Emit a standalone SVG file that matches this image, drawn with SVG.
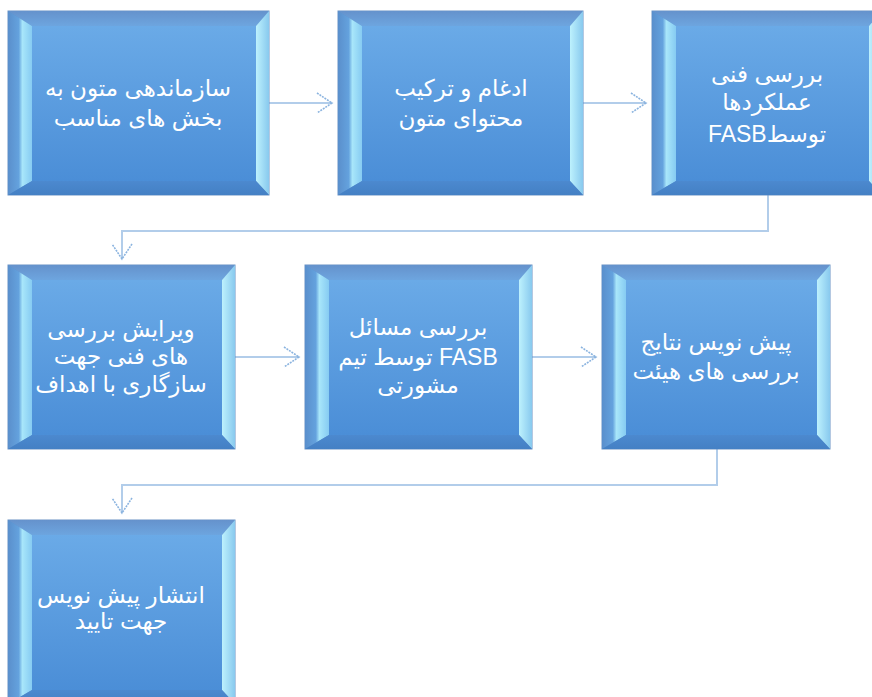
<svg xmlns="http://www.w3.org/2000/svg" width="872" height="697" viewBox="0 0 872 697">
<defs>
<linearGradient id="face" x1="0" y1="0" x2="0" y2="1"><stop offset="0" stop-color="#6aaae7"/><stop offset="1" stop-color="#4b8ed7"/></linearGradient>
<linearGradient id="topB" x1="0" y1="0" x2="0" y2="1"><stop offset="0" stop-color="#6592cc"/><stop offset="1" stop-color="#6da5df"/></linearGradient>
<linearGradient id="leftB" x1="0" y1="0" x2="1" y2="0"><stop offset="0" stop-color="#5a8fcc"/><stop offset="0.45" stop-color="#64a2de"/><stop offset="0.6" stop-color="#a8e6fa"/><stop offset="1" stop-color="#86cbf2"/></linearGradient>
<linearGradient id="rightB" x1="0" y1="0" x2="1" y2="0"><stop offset="0" stop-color="#bdf1fd"/><stop offset="1" stop-color="#88c9ee"/></linearGradient>
<linearGradient id="botB" x1="0" y1="0" x2="0" y2="1"><stop offset="0" stop-color="#4c89cf"/><stop offset="1" stop-color="#4480c4"/></linearGradient>
<marker id="chev" markerUnits="userSpaceOnUse" viewBox="0 0 18 22" refX="16" refY="11" markerWidth="18" markerHeight="22" orient="auto">
<path d="M1,1 L16,11 L1,21" fill="none" stroke="#8ab3df" stroke-width="1.6" stroke-dasharray="2 1"/>
</marker>
</defs>
<style>
.frame{fill:#5b8fcc;stroke:#6b92c4;stroke-width:1}
.face{fill:url(#face)}
.tb{fill:url(#topB)}
.lb{fill:url(#leftB)}
.rb{fill:url(#rightB)}
.bb{fill:url(#botB)}
.lbl{font-family:"Liberation Sans","DejaVu Sans",sans-serif;font-size:23px;fill:#ffffff;text-anchor:middle;direction:rtl;unicode-bidi:embed}
.conn{fill:none;stroke:#b2cdea;stroke-width:2}
</style>
<rect width="872" height="697" fill="#ffffff"/>

<g id="connectors">
<path class="conn" d="M269,103 H332" marker-end="url(#chev)"/>
<path class="conn" d="M583,103 H646" marker-end="url(#chev)"/>
<path class="conn" d="M768,195 V231 H122 V259" marker-end="url(#chev)"/>
<path class="conn" d="M235,357 H299" marker-end="url(#chev)"/>
<path class="conn" d="M532,357 H596" marker-end="url(#chev)"/>
<path class="conn" d="M717,449 V485 H122 V513" marker-end="url(#chev)"/>
</g>

<g id="node1">
<rect class="frame" x="8" y="11" width="261" height="184"/>
<rect class="face" x="32" y="26" width="224" height="155"/>
<polygon class="tb" points="8,11 269,11 256,26 32,26"/>
<polygon class="lb" points="8,11 32,26 32,181 8,195"/>
<polygon class="rb" points="269,11 269,195 256,181 256,26"/>
<polygon class="bb" points="8,195 32,181 256,181 269,195"/>
<text class="lbl" x="138" y="96">سازماندهی متون به</text>
<text class="lbl" x="138" y="126">بخش های مناسب</text>
</g>

<g id="node2">
<rect class="frame" x="338" y="11" width="245" height="184"/>
<rect class="face" x="362" y="26" width="208" height="155"/>
<polygon class="tb" points="338,11 583,11 570,26 362,26"/>
<polygon class="lb" points="338,11 362,26 362,181 338,195"/>
<polygon class="rb" points="583,11 583,195 570,181 570,26"/>
<polygon class="bb" points="338,195 362,181 570,181 583,195"/>
<text class="lbl" x="461" y="96">ادغام و ترکیب</text>
<text class="lbl" x="461" y="126">محتوای متون</text>
</g>

<g id="node3">
<rect class="frame" x="652" y="11" width="230" height="184"/>
<rect class="face" x="676" y="26" width="193" height="155"/>
<polygon class="tb" points="652,11 882,11 869,26 676,26"/>
<polygon class="lb" points="652,11 676,26 676,181 652,195"/>
<polygon class="rb" points="882,11 882,195 869,181 869,26"/>
<polygon class="bb" points="652,195 676,181 869,181 882,195"/>
<text class="lbl" x="767" y="82">بررسی فنی</text>
<text class="lbl" x="767" y="110">عملکردها</text>
<text class="lbl" x="767" y="142">توسطFASB</text>
</g>

<g id="node4">
<rect class="frame" x="8" y="265" width="227" height="184"/>
<rect class="face" x="32" y="280" width="190" height="155"/>
<polygon class="tb" points="8,265 235,265 222,280 32,280"/>
<polygon class="lb" points="8,265 32,280 32,435 8,449"/>
<polygon class="rb" points="235,265 235,449 222,435 222,280"/>
<polygon class="bb" points="8,449 32,435 222,435 235,449"/>
<text class="lbl" x="121" y="337">ویرایش بررسی</text>
<text class="lbl" x="121" y="364">های فنی جهت</text>
<text class="lbl" x="121" y="392">سازگاری با اهداف</text>
</g>

<g id="node5">
<rect class="frame" x="305" y="265" width="227" height="184"/>
<rect class="face" x="329" y="280" width="190" height="155"/>
<polygon class="tb" points="305,265 532,265 519,280 329,280"/>
<polygon class="lb" points="305,265 329,280 329,435 305,449"/>
<polygon class="rb" points="532,265 532,449 519,435 519,280"/>
<polygon class="bb" points="305,449 329,435 519,435 532,449"/>
<text class="lbl" x="418" y="335">بررسی مسائل</text>
<text class="lbl" x="418" y="365">FASB توسط تیم</text>
<text class="lbl" x="418" y="393">مشورتی</text>
</g>

<g id="node6">
<rect class="frame" x="602" y="265" width="228" height="184"/>
<rect class="face" x="626" y="280" width="191" height="155"/>
<polygon class="tb" points="602,265 830,265 817,280 626,280"/>
<polygon class="lb" points="602,265 626,280 626,435 602,449"/>
<polygon class="rb" points="830,265 830,449 817,435 817,280"/>
<polygon class="bb" points="602,449 626,435 817,435 830,449"/>
<text class="lbl" x="716" y="350">پیش نویس نتایج</text>
<text class="lbl" x="716" y="379">بررسی های هیئت</text>
</g>

<g id="node7">
<rect class="frame" x="8" y="520" width="227" height="184"/>
<rect class="face" x="32" y="535" width="190" height="155"/>
<polygon class="tb" points="8,520 235,520 222,535 32,535"/>
<polygon class="lb" points="8,520 32,535 32,690 8,704"/>
<polygon class="rb" points="235,520 235,704 222,690 222,535"/>
<polygon class="bb" points="8,704 32,690 222,690 235,704"/>
<text class="lbl" x="121" y="603">انتشار پیش نویس</text>
<text class="lbl" x="121" y="629">جهت تایید</text>
</g>
</svg>
